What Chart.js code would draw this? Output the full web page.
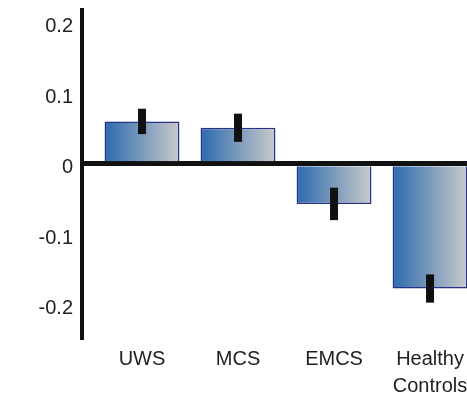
<!DOCTYPE html>
<html>
<head>
<meta charset="utf-8">
<script src="https://cdn.jsdelivr.net/npm/chart.js@4/dist/chart.umd.min.js"></script>
<style>
  html, body { margin: 0; padding: 0; background: #fff; }
  #wrap { width: 467px; height: 398px; }
</style>
</head>
<body>
<div id="wrap"><canvas id="bar-chart"></canvas></div>
<script>
// Group means and error bar half-lengths
const categories = ['UWS', 'MCS', 'EMCS', 'Healthy Controls'];
const values = [0.06, 0.051, -0.057, -0.177];
const errors = [0.018, 0.02, 0.023, 0.02];
const yTicks = [-0.2, -0.1, 0, 0.1, 0.2];

// Black error bars drawn through the chart's own scales
const errorBars = {
    id: 'errorBars',
    afterDatasetsDraw(chart) {
        const ctx = chart.ctx;
        const xs = chart.scales.x;
        const ys = chart.scales.y;
        ctx.save();
        ctx.fillStyle = '#111';
        values.forEach(function(v, i) {
            const x = xs.getPixelForValue(i);
            const top = ys.getPixelForValue(v + errors[i]);
            const bottom = ys.getPixelForValue(v - errors[i]);
            ctx.fillRect(x - 4, top, 8, bottom - top);
        });
        ctx.restore();
    }
};

// Blue to grey gradient across each bar
function barGradient(c) {
    const chart = c.chart;
    const xs = chart.scales.x;
    const cx = xs && c.dataIndex !== undefined ? xs.getPixelForValue(c.dataIndex) : NaN;
    if (!isFinite(cx)) return '#6f92b8';
    const g = chart.ctx.createLinearGradient(cx - 38, 0, cx + 38, 0);
    g.addColorStop(0, '#2b6aae');
    g.addColorStop(1, '#cacaca');
    return g;
}

const font = { family: '"Liberation Sans", Arial, sans-serif', size: 20 };

new Chart(document.getElementById('bar-chart'), {
    type: 'bar',
    data: {
        datasets: [{
            data: categories.map(function(c, i) { return { x: i, y: values[i] }; }),
            backgroundColor: barGradient,
            borderColor: '#27318a',
            borderWidth: 1.5,
            categoryPercentage: 1,
            barPercentage: 0.78
        }]
    },
    options: {
        responsive: true,
        maintainAspectRatio: false,
        animation: false,
        events: [],
        layout: { padding: { top: 10, right: 0, bottom: 0, left: 0 } },
        plugins: { legend: { display: false }, tooltip: { enabled: false } },
        scales: {
            x: {
                type: 'linear',
                min: -0.625,
                max: 3.385,
                offset: false,
                grid: { display: false, drawTicks: false, offset: false },
                border: { display: false },
                afterBuildTicks: function(s) { s.ticks = categories.map(function(c, i) { return { value: i }; }); },
                afterFit: function(s) { s.height = 58; s.paddingLeft = 0; s.paddingRight = 0; },
                ticks: {
                    autoSkip: false,
                    maxRotation: 0,
                    padding: 6,
                    color: '#222',
                    font: Object.assign({ lineHeight: 1.35 }, font),
                    callback: function(v) {
                        const name = categories[v];
                        return name && name.indexOf(' ') > 0 ? name.split(' ') : name;
                    }
                }
            },
            y: {
                min: -0.25,
                max: 0.218,
                z: 1,
                afterBuildTicks: function(s) { s.ticks = yTicks.map(function(v) { return { value: v }; }); },
                afterFit: function(s) { s.width = 82; s.paddingTop = 0; s.paddingBottom = 0; },
                grid: {
                    drawTicks: false,
                    color: function(c) { return c.tick && c.tick.value === 0 ? '#111' : 'rgba(0,0,0,0)'; },
                    lineWidth: function(c) { return c.tick && c.tick.value === 0 ? 5 : 0; }
                },
                border: { display: true, color: '#111', width: 4 },
                ticks: {
                    padding: 9,
                    labelOffset: 4,
                    color: '#222',
                    font: font,
                    callback: function(v) { return String(Math.round(v * 10) / 10); }
                }
            }
        }
    },
    plugins: [errorBars]
});
</script>
</body>
</html>
